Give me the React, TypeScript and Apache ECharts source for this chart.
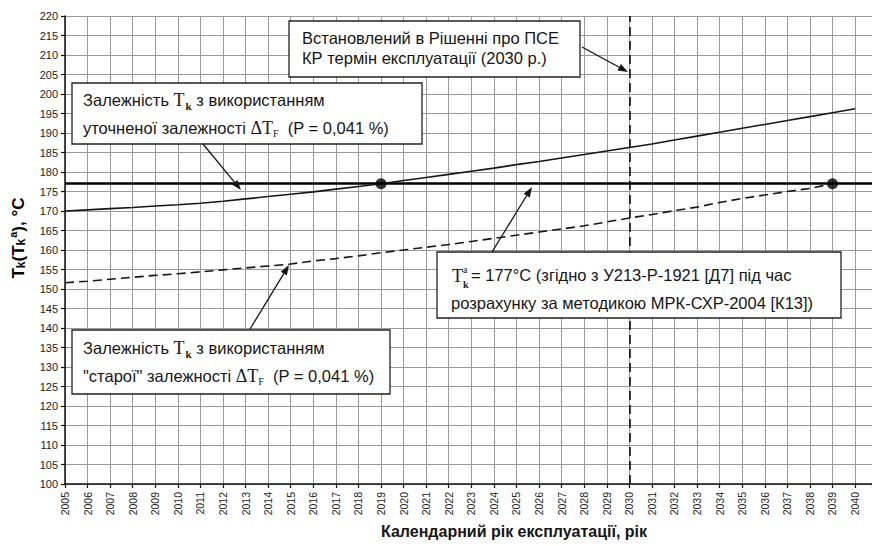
import React, { useEffect, useRef } from "react";
import * as echarts from "echarts";

// ---- data ----
const years = [2005, 2006, 2007, 2008, 2009, 2010, 2011, 2012, 2013, 2014, 2015, 2016, 2017, 2018, 2019, 2020, 2021, 2022, 2023, 2024, 2025, 2026, 2027, 2028, 2029, 2030, 2031, 2032, 2033, 2034, 2035, 2036, 2037, 2038, 2039, 2040];
const refinedTk = [170.0, 170.3, 170.6, 170.9, 171.3, 171.6, 172.0, 172.5, 173.1, 173.7, 174.3, 174.9, 175.6, 176.3, 177.0, 177.8, 178.6, 179.4, 180.2, 181.0, 181.9, 182.7, 183.6, 184.5, 185.4, 186.3, 187.2, 188.2, 189.2, 190.2, 191.2, 192.2, 193.2, 194.2, 195.2, 196.2];
const oldYears = [2005, 2006, 2007, 2008, 2009, 2010, 2011, 2012, 2013, 2014, 2015, 2016, 2017, 2018, 2019, 2020, 2021, 2022, 2023, 2024, 2025, 2026, 2027, 2028, 2029, 2030, 2031, 2032, 2033, 2034, 2035, 2036, 2037, 2038, 2039];
const oldTk = [151.6, 152.0, 152.5, 153.0, 153.5, 153.9, 154.4, 154.9, 155.4, 155.9, 156.4, 157.2, 157.8, 158.5, 159.3, 160.0, 160.7, 161.4, 162.2, 163.0, 163.8, 164.6, 165.4, 166.2, 167.2, 168.2, 169.1, 170.1, 171.0, 172.2, 173.2, 174.1, 175.0, 175.8, 177.0];
const allowedTk = 177;
const designLifeYear = 2030;
const crossingYears = [2019, 2039];
const crossingTk = [177, 177];

const box1Lines = ["Встановлений в Рішенні про ПСЕ", "КР термін експлуатації (2030 р.)"];
const box2Lines = ["Залежність {t|T}{k|k} з використанням", "уточненої залежності {t|ΔT}{f|F}  (P = 0,041 %)"];
const box3Lines = ["Залежність {t|T}{k|k} з використанням", "\"старої\" залежності {t|ΔT}{f|F}  (P = 0,041 %)"];
const box4Line1 = "= 177°C (згідно з У213-Р-1921 [Д7] під час";
const box4Line2 = "розрахунку за методикою МРК-СХР-2004 [К13])";
const xTitle = "Календарний рік експлуатації, рік";

const SANS = "'Liberation Sans', Arial, sans-serif";
const SERIF = "'Liberation Serif', 'Times New Roman', serif";
const INK = "#161616";
const FS = 16.5;

const richBox = {
  t: { fontFamily: SERIF, fontSize: 18, color: INK, lineHeight: 28 },
  k: { fontFamily: SERIF, fontSize: 11, fontWeight: "bold", color: INK, padding: [11, 0, 0, 1] },
  f: { fontFamily: SERIF, fontSize: 10, color: INK, padding: [10, 0, 0, 0] },
};

function arrow(x1: number, y1: number, x2: number, y2: number) {
  const a = Math.atan2(y2 - y1, x2 - x1);
  const L = 10, W = 3.6;
  const c = Math.cos(a), s = Math.sin(a);
  const bx = x2 - L * c, by = y2 - L * s;
  const px = -s * W, py = c * W;
  return [
    { type: "line", z: 100, shape: { x1, y1, x2: bx, y2: by }, style: { stroke: INK, lineWidth: 1.3 } },
    { type: "polygon", z: 100, shape: { points: [[x2, y2], [bx + px, by + py], [bx - px, by - py]] }, style: { fill: INK } },
  ];
}

function box(x: number, y: number, w: number, h: number) {
  return {
    type: "rect", z: 99,
    shape: { x, y, width: w, height: h },
    style: { fill: "#fff", stroke: "#222", lineWidth: 1.3 },
  };
}

function line(x: number, y: number, text: string) {
  return {
    type: "text", z: 101, x, y,
    style: {
      text, fill: INK, font: `${FS}px ${SANS}`, fontFamily: SANS, fontSize: FS,
      align: "left", verticalAlign: "middle", rich: richBox,
    },
  };
}

export default function App() {
  const ref = useRef<HTMLDivElement>(null);
  useEffect(() => {
    if (!ref.current) return;
    const chart = echarts.init(ref.current, undefined, { renderer: "svg" });
    const graphic: any[] = [
      // y-axis title
      {
        type: "text", z: 101, x: 18, y: 238, rotation: Math.PI / 2,
        style: {
          text: "{b|T}{s|k}{b|(T}{s|k}{p|a}{b|), °C}",
          align: "center", verticalAlign: "middle",
          rich: {
            b: { fontFamily: SANS, fontSize: 17, fontWeight: "bold", color: INK, lineHeight: 24 },
            s: { fontFamily: SANS, fontSize: 12, fontWeight: "bold", color: INK, padding: [6, 0, 0, 0] },
            p: { fontFamily: SANS, fontSize: 11, fontWeight: "bold", color: INK, padding: [0, 0, 10, 1] },
          },
        },
      },
      // x-axis title
      {
        type: "text", z: 101, x: 514, y: 531,
        style: { text: xTitle, fill: INK, font: `bold 16px ${SANS}`, align: "center", verticalAlign: "middle" },
      },
      // box 1
      box(289, 21, 291, 56),
      line(302, 38, box1Lines[0]),
      line(302, 58, box1Lines[1]),
      ...arrow(582, 47, 628, 72),
      // box 2
      box(72, 83, 350, 61),
      line(83, 100, box2Lines[0]),
      line(83, 128, box2Lines[1]),
      ...arrow(203, 144, 241, 190),
      // box 3
      box(72, 330, 318, 64),
      line(83, 348, box3Lines[0]),
      line(83, 376, box3Lines[1]),
      ...arrow(250, 329, 289, 265),
      // box 4
      box(437, 252, 404, 66),
      { type: "text", z: 101, x: 452, y: 276, style: { text: "T", fill: INK, font: `18px ${SERIF}`, align: "left", verticalAlign: "middle" } },
      { type: "text", z: 101, x: 463, y: 269, style: { text: "a", fill: INK, font: `10px ${SERIF}`, align: "left", verticalAlign: "middle" } },
      { type: "text", z: 101, x: 463, y: 284, style: { text: "k", fill: INK, font: `bold 10px ${SERIF}`, align: "left", verticalAlign: "middle" } },
      line(471, 275, box4Line1),
      line(451, 303, box4Line2),
      ...arrow(492, 252, 532, 187),
    ];

    chart.setOption({
      animation: false,
      backgroundColor: "#fff",
      grid: { left: 65, right: 0, top: 16, bottom: 62, containLabel: false },
      xAxis: {
        type: "value", min: 2005, max: 2040.75, interval: 1,
        axisLine: { show: true, lineStyle: { color: "#111", width: 1.5 } },
        axisTick: { show: true, length: 4, lineStyle: { color: "#111", width: 1.2 } },
        axisLabel: {
          rotate: 90, margin: 8, fontSize: 10.5, fontFamily: SANS, color: "#222",
          formatter: (v: number) => (Number.isInteger(v) ? String(v) : ""),
        },
        splitLine: { show: true, lineStyle: { color: "#9a9a9a", width: 1 } },
      },
      yAxis: {
        type: "value", min: 100, max: 220, interval: 5,
        axisLine: { show: true, lineStyle: { color: "#111", width: 1.5 } },
        axisTick: { show: true, length: 4, lineStyle: { color: "#111", width: 1.2 } },
        axisLabel: { margin: 7, fontSize: 11, fontFamily: SANS, color: "#222" },
        splitLine: { show: true, lineStyle: { color: "#9a9a9a", width: 1 } },
      },
      series: [
        {
          type: "line", name: "refined", showSymbol: false, z: 5,
          data: years.map((y, i) => [y, refinedTk[i]]),
          lineStyle: { color: INK, width: 1.6 },
        },
        {
          type: "line", name: "old", showSymbol: false, z: 5,
          data: oldYears.map((y, i) => [y, oldTk[i]]),
          lineStyle: { color: INK, width: 1.6, type: [9, 5] },
        },
        {
          type: "scatter", name: "crossings", z: 6,
          symbolSize: 11,
          itemStyle: { color: "#000" },
          data: crossingYears.map((y, i) => [y, crossingTk[i]]),
          markLine: {
            silent: true, symbol: "none", label: { show: false },
            data: [
              { yAxis: allowedTk, lineStyle: { color: "#000", width: 2.6, type: "solid" } },
              { xAxis: designLifeYear, lineStyle: { color: "#000", width: 1.5, type: [9, 5] } },
            ],
          },
        },
      ],
      graphic,
    });
    return () => chart.dispose();
  }, []);
  return <div ref={ref} style={{ position: "absolute", left: 0, top: 0, width: 872, height: 546 }} />;
}
